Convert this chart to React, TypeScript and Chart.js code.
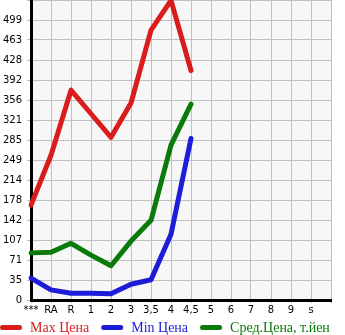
import React, { useEffect, useRef } from "react";
import { Chart, registerables } from "chart.js";

Chart.register(...registerables);

const categories = ["***", "RA", "R", "1", "2", "3", "3,5", "4", "4,5", "5", "6", "7", "8", "9", "s", ""];
const maxPrice = [169, 258, 374, 332, 290, 351, 481, 534, 409];
const minPrice = [39, 18, 12, 12, 11, 28, 36, 117, 288];
const avgPrice = [84, 85, 101, 80, 61, 105, 142, 276, 349];
const yTickLabels = ["0", "35", "71", "107", "142", "178", "214", "249", "285", "321", "356", "392", "428", "463", "499", ""];
const yStep = 35.65;
const seriesNames = ["Max Цена", "Min Цена", "Сред.Цена, т.йен"];
const seriesColors = ["#d91c1c", "#1c1cd9", "#0a7a0a"];

const bgPlugin = {
  id: "plotBg",
  beforeDraw(chart: any) {
    const { ctx, chartArea } = chart;
    ctx.save();
    ctx.fillStyle = "#f7f7f7";
    ctx.fillRect(chartArea.left, chartArea.top, chartArea.right - chartArea.left, chartArea.bottom - chartArea.top);
    ctx.restore();
  },
};

const legendPlugin = {
  id: "customLegend",
  afterDraw(chart: any) {
    const { ctx } = chart;
    ctx.save();
    ctx.font = "14px 'Liberation Serif', serif";
    ctx.textBaseline = "middle";
    let x = 0;
    const y = 328;
    chart.data.datasets.forEach((ds: any, i: number) => {
      ctx.strokeStyle = seriesColors[i];
      ctx.lineWidth = 5;
      ctx.lineCap = "round";
      ctx.beginPath();
      ctx.moveTo(x + 2.5, y - 0.5);
      ctx.lineTo(x + 19.5, y - 0.5);
      ctx.stroke();
      x += 30;
      ctx.fillStyle = seriesColors[i];
      ctx.fillText(ds.label, x, y + 0.5);
      x += ctx.measureText(ds.label).width + 12;
    });
    ctx.restore();
  },
};

export default function App() {
  const ref = useRef<HTMLCanvasElement>(null);
  useEffect(() => {
    document.body.style.margin = "0";
    const font = { family: "'DejaVu Sans', sans-serif", size: 10 };
    const chart = new Chart(ref.current!, {
      type: "line",
      data: {
        labels: categories,
        datasets: [maxPrice, minPrice, avgPrice].map((d, i) => ({
          label: seriesNames[i],
          data: d,
          borderColor: seriesColors[i],
          backgroundColor: seriesColors[i],
          borderWidth: 5,
          pointRadius: 0,
          tension: 0,
          borderCapStyle: "round",
          borderJoinStyle: "round",
        })),
      },
      options: {
        responsive: false,
        animation: false,
        layout: { padding: { top: 0, right: 14, left: 0, bottom: 19 } },
        plugins: {
          tooltip: { enabled: false },
          legend: { display: false },
        },
        scales: {
          x: {
            type: "category",
            offset: false,
            grid: { color: "#c0c0c0", tickLength: 3, drawTicks: true },
            border: { color: "#000", width: 3 },
            ticks: { font, color: "#000", autoSkip: false, maxRotation: 0, padding: 1 },
            afterFit: (axis: any) => {
              axis.height = 16;
              axis.paddingRight = 0;
            },
          },
          y: {
            min: 0,
            max: yStep * 15,
            afterBuildTicks: (axis: any) => {
              axis.ticks = yTickLabels.map((_, i) => ({ value: i * yStep }));
            },
            grid: { color: "#c0c0c0", tickLength: 4 },
            border: { color: "#000", width: 3 },
            ticks: {
              font,
              color: "#000",
              padding: 5,
              callback: (_v: any, i: number) => yTickLabels[i],
            },
            afterFit: (axis: any) => {
              axis.width = 31;
              axis.paddingTop = 0;
              axis.paddingBottom = 0;
            },
          },
        },
      },
      plugins: [bgPlugin, legendPlugin],
    });
    return () => chart.destroy();
  }, []);
  return (
    <div style={{ width: 345, height: 335 }}>
      <canvas ref={ref} width={345} height={335} style={{ display: "block" }} />
    </div>
  );
}
